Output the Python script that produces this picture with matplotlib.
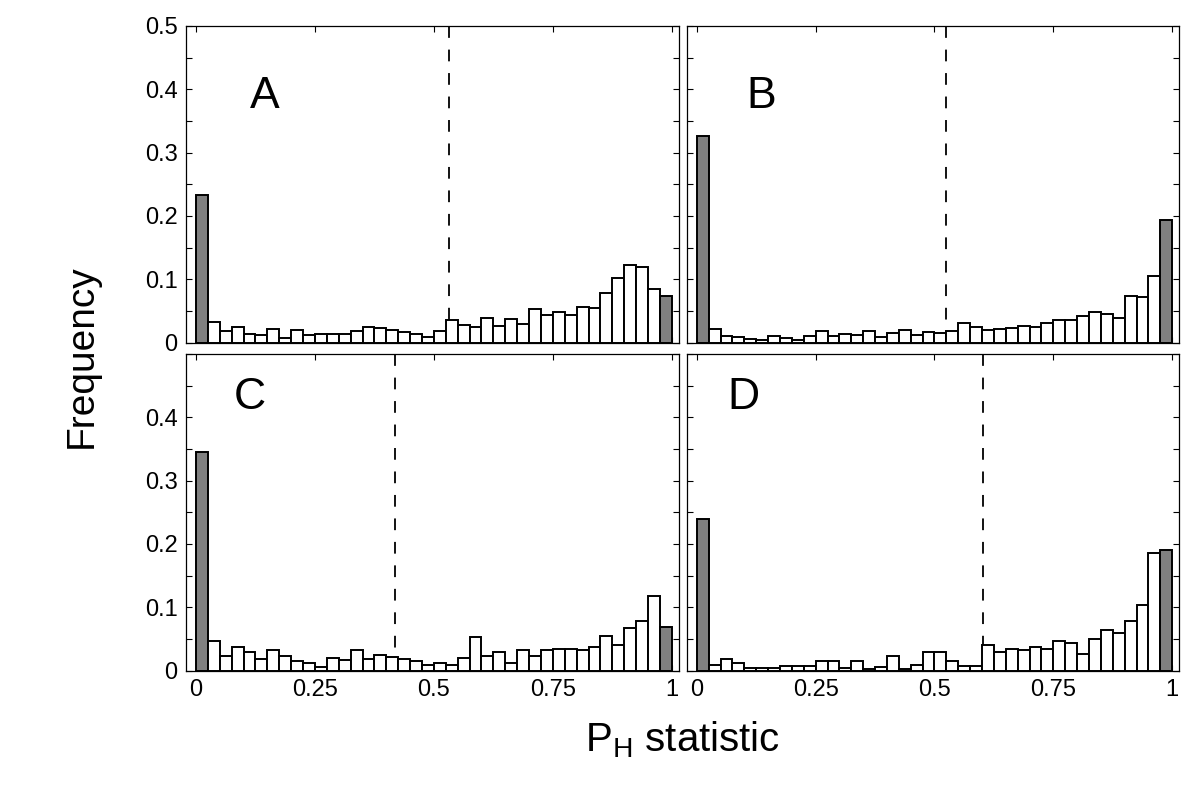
import numpy as np
import matplotlib
matplotlib.use('Agg')
import matplotlib.pyplot as plt

plt.rcParams['font.family'] = ['Liberation Sans', 'DejaVu Sans']

# histogram heights, 40 bins of width 0.025 on [0, 1]
freq_a = [0.233, 0.033, 0.018, 0.025, 0.014, 0.012, 0.022, 0.007, 0.020, 0.012,
          0.013, 0.013, 0.013, 0.019, 0.025, 0.023, 0.020, 0.017, 0.013, 0.0095,
          0.019, 0.035, 0.028, 0.025, 0.039, 0.026, 0.038, 0.030, 0.053, 0.044,
          0.048, 0.043, 0.056, 0.054, 0.079, 0.102, 0.123, 0.119, 0.085, 0.073]
freq_b = [0.327, 0.021, 0.0105, 0.009, 0.006, 0.004, 0.0105, 0.0074, 0.005, 0.010,
          0.018, 0.010, 0.014, 0.0116, 0.018, 0.0084, 0.015, 0.0195, 0.0116, 0.0163,
          0.0147, 0.019, 0.031, 0.025, 0.020, 0.0216, 0.023, 0.026, 0.025, 0.031,
          0.036, 0.036, 0.042, 0.048, 0.046, 0.039, 0.074, 0.072, 0.106, 0.193]
freq_c = [0.346, 0.047, 0.0237, 0.038, 0.029, 0.018, 0.033, 0.0237, 0.015, 0.0116,
          0.006, 0.0205, 0.017, 0.033, 0.018, 0.024, 0.021, 0.018, 0.015, 0.0084,
          0.0116, 0.0084, 0.0205, 0.0526, 0.023, 0.0295, 0.012, 0.033, 0.0237, 0.033,
          0.035, 0.035, 0.032, 0.038, 0.055, 0.041, 0.068, 0.079, 0.118, 0.069]
freq_d = [0.240, 0.009, 0.018, 0.0116, 0.0047, 0.0047, 0.0047, 0.008, 0.008, 0.008,
          0.015, 0.015, 0.005, 0.015, 0.003, 0.006, 0.0237, 0.0026, 0.0084, 0.029,
          0.029, 0.0147, 0.0074, 0.0074, 0.0405, 0.029, 0.035, 0.033, 0.038, 0.035,
          0.047, 0.044, 0.026, 0.050, 0.064, 0.059, 0.079, 0.103, 0.186, 0.191]

# dashed line position (median) per panel
medians = [0.532, 0.525, 0.419, 0.603]
letters = ['A', 'B', 'C', 'D']
letter_pos = [(0.145, 0.388), (0.135, 0.388), (0.114, 0.432), (0.099, 0.432)]

xticks = [0, 0.25, 0.5, 0.75, 1]
xticklabels = ['0', '0.25', '0.5', '0.75', '1']
yticks = [0, 0.05, 0.1, 0.15, 0.2, 0.25, 0.3, 0.35, 0.4, 0.45, 0.5]

edges = np.linspace(0, 1, 41)

fig = plt.figure(figsize=(12, 8.01), dpi=100)

# axes boxes in figure fractions: left, bottom, width, height
boxes = [[0.155, 0.5722, 0.4108, 0.3954],
         [0.5723, 0.5722, 0.4105, 0.3954],
         [0.155, 0.1627, 0.4108, 0.3954],
         [0.5723, 0.1627, 0.4105, 0.3954]]

def draw_panel(ax, freq, med, letter, pos, row, col):
	colors = ['white'] * len(freq)
	colors[0] = '#808080'
	colors[-1] = '#808080'
	ax.axvline(med, color='black', lw=1.3, linestyle=(0, (6.5, 6.5)), zorder=1)
	ax.bar(edges[:-1], freq, width=0.025, align='edge', color=colors,
	       edgecolor='black', linewidth=1.4, zorder=2)
	ax.set_xlim(-0.021, 1.015)
	ax.set_ylim(0, 0.5)
	ax.set_xticks(xticks)
	ax.set_yticks(yticks)
	if col == 0:
		labs = ['0' if v == 0 else ('%g' % v if round(v * 100) % 10 == 0 else '') for v in yticks]
		if row == 1:
			labs[-1] = ''
		ax.set_yticklabels(labs)
	else:
		ax.set_yticklabels([])
	if row == 1:
		ax.set_xticklabels(xticklabels)
	else:
		ax.set_xticklabels([])
	ax.tick_params(direction='in', length=4, width=0.8, top=True, right=True,
	               labelsize=17, pad=6)
	for s in ax.spines.values():
		s.set_linewidth(0.9)
	ax.text(pos[0], pos[1], letter, fontsize=32, ha='center', va='center')

all_freq = [freq_a, freq_b, freq_c, freq_d]
for i in range(4):
	ax = fig.add_axes(boxes[i])
	draw_panel(ax, all_freq[i], medians[i], letters[i], letter_pos[i], i // 2, i % 2)

fig.text(0.068, 0.555, 'Frequency', rotation=90, fontsize=28, ha='center', va='center')
fig.text(0.569, 0.076, r'$\mathregular{P_{H}}$ statistic', fontsize=29, ha='center', va='center')

fig.savefig('out.png', dpi=100)
